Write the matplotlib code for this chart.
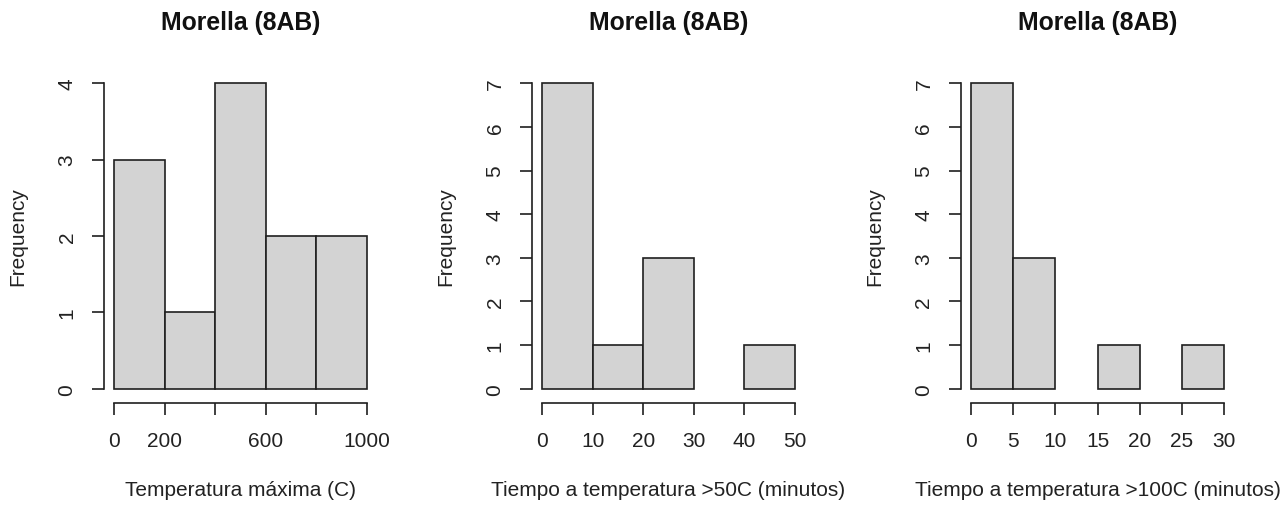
import matplotlib

matplotlib.use("Agg")

import matplotlib.pyplot as plt
import numpy as np

plt.rcParams["font.family"] = ["Liberation Sans", "DejaVu Sans"]

TITLE = "Morella (8AB)"
YLABEL = "Frequency"

# histogram breaks and counts for each panel
temp_max_edges = [0, 200, 400, 600, 800, 1000]
temp_max_counts = [3, 1, 4, 2, 2]
temp_max_xticks = [0, 200, 400, 600, 800, 1000]
temp_max_xlabels = ["0", "200", "", "600", "", "1000"]
temp_max_yticks = [0, 1, 2, 3, 4]
temp_max_label = "Temperatura máxima (C)"

t50_edges = [0, 10, 20, 30, 40, 50]
t50_counts = [7, 1, 3, 0, 1]
t50_xticks = [0, 10, 20, 30, 40, 50]
t50_yticks = [0, 1, 2, 3, 4, 5, 6, 7]
t50_label = "Tiempo a temperatura >50C (minutos)"

t100_edges = [0, 5, 10, 15, 20, 25, 30]
t100_counts = [7, 3, 0, 1, 0, 1]
t100_xticks = [0, 5, 10, 15, 20, 25, 30]
t100_yticks = [0, 1, 2, 3, 4, 5, 6, 7]
t100_label = "Tiempo a temperatura >100C (minutos)"

W, H = 1288, 506
BAR_COLOR = "#d3d3d3"
LINE_COLOR = "#1f1f1f"


def draw_hist(fig, left_px, edges, counts, xticks, xlabels, yticks, xlabel):
    edges = np.asarray(edges, dtype=float)
    counts = np.asarray(counts, dtype=float)
    width_px = 273
    top_px, bottom_px = 72, 402
    ax = fig.add_axes([left_px / W, 1 - bottom_px / H,
                       width_px / W, (bottom_px - top_px) / H])

    # R-style 4% padding around the data range
    xr = edges[-1] - edges[0]
    ax.set_xlim(edges[0] - 0.04 * xr, edges[-1] + 0.04 * xr)
    ymax = max(yticks)
    ax.set_ylim(-0.04 * ymax, 1.04 * ymax)

    # empty bins get no outline
    lw = [1.2 if c > 0 else 0 for c in counts]
    ax.bar(edges[:-1], counts, width=np.diff(edges), align="edge",
           color=BAR_COLOR, edgecolor=LINE_COLOR, linewidth=lw)

    for side in ("top", "right"):
        ax.spines[side].set_visible(False)
    ax.spines["left"].set_bounds(min(yticks), max(yticks))
    ax.spines["bottom"].set_bounds(xticks[0], xticks[-1])
    ax.spines["bottom"].set_position(("outward", 1.5))
    for side in ("left", "bottom"):
        ax.spines[side].set_color(LINE_COLOR)
        ax.spines[side].set_linewidth(1.2)

    ax.set_xticks(xticks)
    ax.set_xticklabels(xlabels if xlabels is not None else [str(t) for t in xticks])
    ax.set_yticks(yticks)
    ax.set_yticklabels([str(t) for t in yticks], rotation=90, va="center")
    ax.tick_params(axis="both", direction="out", length=8.8, width=1.2,
                   color=LINE_COLOR, labelsize=15, labelcolor="#222222", pad=11)

    ax.set_title(TITLE, fontsize=17.8, fontweight="bold", pad=30.5, color="#111111")
    ax.set_xlabel(xlabel, fontsize=15, labelpad=22, color="#222222")
    ax.set_ylabel(YLABEL, fontsize=15, labelpad=22, color="#222222")
    return ax


fig = plt.figure(figsize=(W / 100, H / 100), dpi=100)
draw_hist(fig, 104, temp_max_edges, temp_max_counts, temp_max_xticks,
          temp_max_xlabels, temp_max_yticks, temp_max_label)
draw_hist(fig, 532, t50_edges, t50_counts, t50_xticks, None, t50_yticks, t50_label)
draw_hist(fig, 961, t100_edges, t100_counts, t100_xticks, None, t100_yticks, t100_label)

fig.savefig("out.png", dpi=100)
